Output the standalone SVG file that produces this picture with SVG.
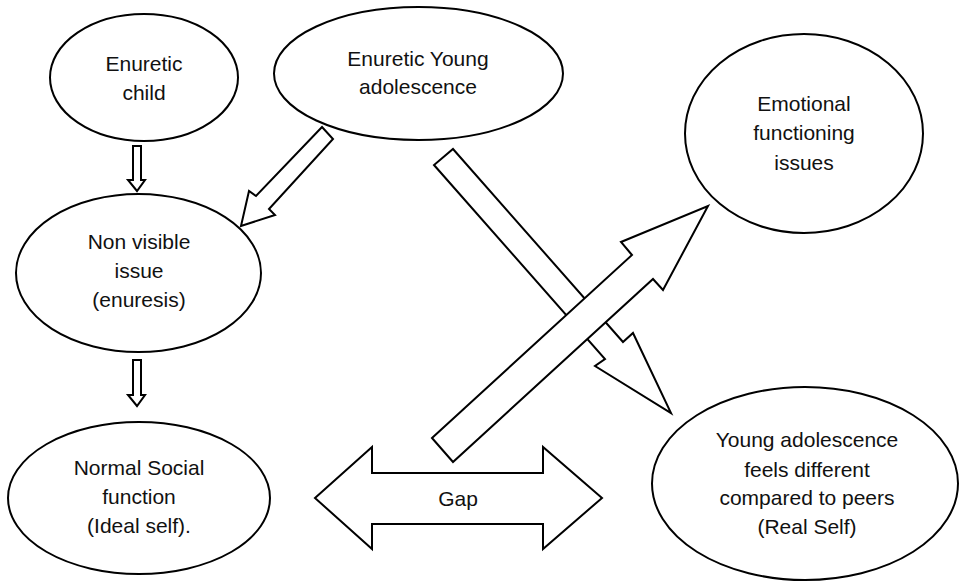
<svg xmlns="http://www.w3.org/2000/svg" width="960" height="583" viewBox="0 0 960 583">
<style>
.n{fill:#fff;stroke:#000;stroke-width:2}
.a{fill:#fff;stroke:#000;stroke-width:2;stroke-linejoin:miter}
text{font-family:"Liberation Sans",Arial,sans-serif;font-size:21px;fill:#111;text-anchor:middle}
</style>
<rect width="960" height="583" fill="#fff"/>
<g id="node-enuretic-child">
<ellipse class="n" cx="144" cy="77.5" rx="94" ry="63.5"/>
<text x="144" y="71">Enuretic</text>
<text x="144" y="100">child</text>
</g>
<g id="node-enuretic-young">
<ellipse class="n" cx="418.5" cy="73.5" rx="144.5" ry="66.5"/>
<text x="418" y="66">Enuretic Young</text>
<text x="418" y="94">adolescence</text>
</g>
<g id="node-non-visible">
<ellipse class="n" cx="138.5" cy="273" rx="122.5" ry="79"/>
<text x="139" y="249">Non visible</text>
<text x="139" y="278">issue</text>
<text x="139" y="307">(enuresis)</text>
</g>
<g id="node-normal-social">
<ellipse class="n" cx="139" cy="498" rx="131" ry="76"/>
<text x="139" y="475">Normal Social</text>
<text x="139" y="504">function</text>
<text x="139" y="533">(Ideal self).</text>
</g>
<g id="node-emotional">
<ellipse class="n" cx="804" cy="133.5" rx="119" ry="99.5"/>
<text x="804" y="111">Emotional</text>
<text x="804" y="140">functioning</text>
<text x="804" y="170">issues</text>
</g>
<g id="node-real-self">
<ellipse class="n" cx="805" cy="483.5" rx="153" ry="96.5"/>
<text x="807" y="447">Young adolescence</text>
<text x="807" y="477">feels different</text>
<text x="807" y="505">compared to peers</text>
<text x="807" y="534">(Real Self)</text>
</g>
<g id="connectors">
<polygon class="a" points="133,146 141,146 141,180 145,180 137,191 128,180 133,180"/>
<polygon class="a" points="133,360 141,360 141,395 145,395 137,406 128,395 133,395"/>
<polygon class="a" points="322,127 333,139 269,209 275,215 241,226 249,191 256,196"/>
<polygon class="a" points="453,149 623,342 633,333 671,413 595,366 605,359 434,165"/>
<polygon class="a" points="432,438 632,255 621,242 708,206 663,290 653,279 453,462"/>
<g id="gap-arrow">
<polygon class="a" points="315,498 372,447 372,473 543,473 543,447 602,498 543,549 543,524 372,524 372,549"/>
<text x="458" y="506">Gap</text>
</g>
</g>
</svg>
